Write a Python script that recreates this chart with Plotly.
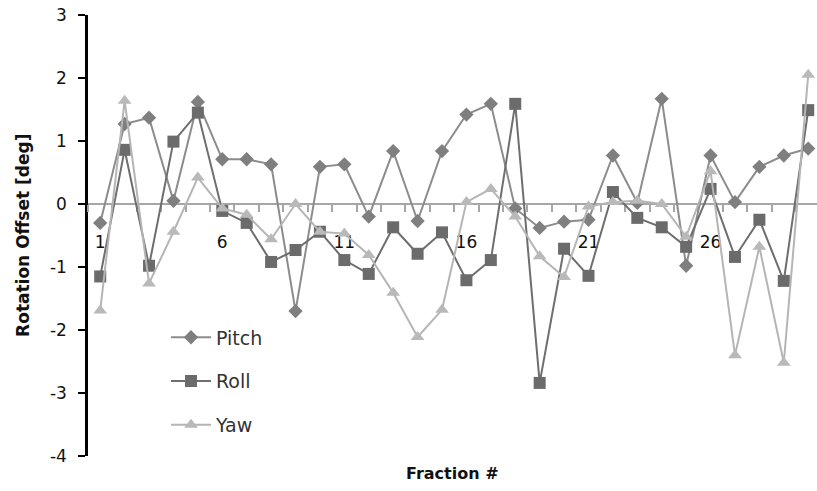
import plotly.graph_objects as go

fractions = list(range(1, 31))
pitch = [-0.30, 1.27, 1.37, 0.05, 1.62, 0.71, 0.71, 0.63, -1.70, 0.59,
         0.63, -0.20, 0.84, -0.27, 0.84, 1.42, 1.59, -0.07, -0.38, -0.28,
         -0.25, 0.77, 0.02, 1.67, -0.98, 0.77, 0.03, 0.59, 0.77, 0.88]
roll = [-1.15, 0.86, -0.98, 0.99, 1.45, -0.11, -0.30, -0.92, -0.73, -0.44,
        -0.89, -1.11, -0.37, -0.79, -0.45, -1.21, -0.89, 1.59, -2.84, -0.71,
        -1.14, 0.19, -0.22, -0.37, -0.68, 0.24, -0.84, -0.25, -1.22, 1.49]
yaw = [-1.69, 1.64, -1.26, -0.44, 0.42, -0.07, -0.17, -0.56, 0.00, -0.44,
       -0.47, -0.81, -1.41, -2.11, -1.68, 0.03, 0.24, -0.20, -0.83, -1.16,
       -0.04, 0.03, 0.05, 0.00, -0.52, 0.52, -2.40, -0.68, -2.52, 2.05]
x_tick_vals = [1, 6, 11, 16, 21, 26]
x_tick_text = ["1", "6", "11", "16", "21", "26"]
y_tick_vals = [-4, -3, -2, -1, 0, 1, 2, 3]
y_tick_text = ["-4", "-3", "-2", "-1", "0", "1", "2", "3"]

FONT = "DejaVu Sans"
fig = go.Figure()
series = [
    ("Pitch", pitch, "diamond", 11, "#7f7f7f", "#8c8c8c"),
    ("Roll", roll, "square", 12, "#6b6b6b", "#6e6e6e"),
    ("Yaw", yaw, "triangle-up", 12, "#b9b9b9", "#b5b5b5"),
]
for name, vals, sym, size, mcol, lcol in series:
    fig.add_trace(go.Scatter(
        x=fractions, y=vals, name=name, mode="lines+markers",
        line=dict(color=lcol, width=2),
        marker=dict(symbol=sym, size=size, color=mcol, line=dict(width=0)),
        legendgroup=name, cliponaxis=False,
    ))

fig.update_layout(
    width=817, height=491,
    margin=dict(l=88, r=0, t=15, b=35),
    paper_bgcolor="white", plot_bgcolor="white",
    font=dict(family=FONT, size=17, color="#222222"),
    showlegend=True,
    legend=dict(x=0.107, y=0.312, xanchor="left", yanchor="top",
                bgcolor="rgba(0,0,0,0)", font=dict(size=19, color="#333333"),
                tracegroupgap=16, itemwidth=40),
    xaxis=dict(range=[0.5, 30.36], anchor="free", position=4/7,
               showline=True, linecolor="#a6a6a6", linewidth=2,
               showgrid=False, zeroline=False,
               tickmode="array", tickvals=x_tick_vals, ticktext=x_tick_text,
               ticks="outside", ticklen=7, tickcolor="rgba(0,0,0,0)",
               ticklabelstandoff=16,
               tickfont=dict(size=17, color="#111111"),
               minor=dict(tickmode="linear", tick0=0.5, dtick=1, ticks="outside",
                          ticklen=7, tickcolor="#a6a6a6", tickwidth=1.5, showgrid=False),
               layer="below traces"),
    yaxis=dict(range=[-4, 3], tickmode="array", tickvals=y_tick_vals, ticktext=y_tick_text,
               showline=True, linecolor="#000000", linewidth=2.5,
               ticks="outside", ticklen=7, tickcolor="#000000", tickwidth=2,
               ticklabelstandoff=8,
               showgrid=False, zeroline=False,
               tickfont=dict(size=17, color="#111111"), layer="below traces"),
)
fig.add_annotation(text="<b>Fraction #</b>", xref="paper", yref="paper",
                   x=0.5, y=-0.04, xanchor="center", yanchor="middle",
                   showarrow=False, font=dict(size=16, color="#111111"))
fig.add_annotation(text="<b>Rotation Offset [deg]</b>", xref="paper", yref="paper",
                   x=-0.09, y=0.5, xanchor="center", yanchor="middle", textangle=-90,
                   showarrow=False, font=dict(size=17, color="#111111"))
fig.write_html("out.html", config={"displayModeBar": False},
               post_script="document.body.style.margin='0';document.body.style.overflow='hidden';")
